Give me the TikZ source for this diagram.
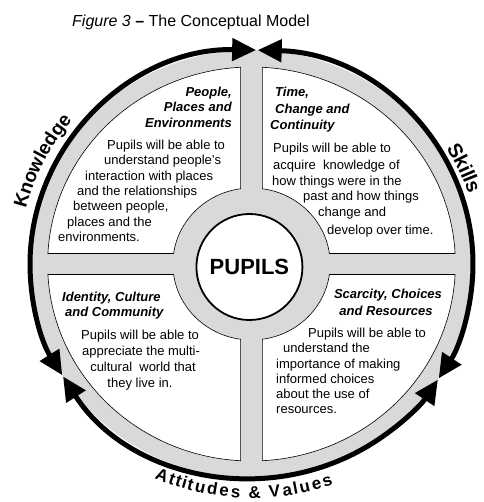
\documentclass[tikz,border=0pt]{standalone}
\usepackage{fontspec}
\setmainfont{Liberation Sans}
\usetikzlibrary{arrows.meta}

\newcommand\bodysize{\fontsize{13}{15}\selectfont}

\begin{document}
\begin{tikzpicture}
	[x=1pt,y=-1pt,
	 ring/.style={fill=gray!30},
	 quad/.style={fill=white,draw=black,line width=0.6pt},
	 arcarrow/.style={line width=5pt,
		{Triangle[length=24pt,width=22pt]}-{Triangle[length=24pt,width=22pt]}},
	 arcletter/.style={inner sep=0pt,anchor=base,font=\fontsize{#1}{#1}\selectfont\bfseries},
	 head/.style={font=\bodysize\bfseries\itshape,inner sep=0pt},
	 body/.style={font=\bodysize,inner sep=0pt}]
	\useasboundingbox (0,0) rectangle (483,502);
	\node[anchor=base west,inner sep=0pt,font=\fontsize{16}{18}\selectfont] (title) at (72,27)
		{\textit{Figure 3} \textbf{--} The Conceptual Model};
	% wheel
	\begin{scope}[shift={(251.5,264)},x=1.035pt,y=1pt]
		\def\rin{76} \def\rout{197} \def\gap{10.5}
		\pgfmathsetmacro\ai{asin(\gap/\rin)}
		\pgfmathsetmacro\ao{asin(\gap/\rout)}
		\fill[ring] (0,0) circle[radius=214];
		\foreach \q in {0,90,180,270}
			\filldraw[quad] (\q+90-\ai:\rin) -- (\q+90-\ao:\rout)
				arc[start angle=\q+90-\ao,end angle=\q+\ao,radius=\rout]
				-- (\q+\ai:\rin)
				arc[start angle=\q+\ai,end angle=\q+90-\ai,radius=\rin] -- cycle;
		\node[circle,draw,fill=white,line width=1.8pt,minimum size=106pt,inner sep=0pt,
			font=\fontsize{22}{22}\selectfont\bfseries] (pupils) at (-2,-3) {PUPILS};
		% the three arrows round the wheel
		\draw[arcarrow] (88.8:214) arc[start angle=88.8,end angle=211.3,radius=214];
		\draw[arcarrow] (211.7:214) arc[start angle=211.7,end angle=327.3,radius=214];
		\draw[arcarrow] (88.4:214) arc[start angle=88.4,end angle=-32.3,radius=214];
		% words set letter by letter round the rim
		\foreach \ch/\a [count=\i] in {K/163.9,n/160.7,o/157.8,w/154.6,l/152.0,
				e/150.1,d/147.4,g/144.4,e/141.6}
			\node[arcletter=19,rotate=\a-90] (know\i) at (\a:225) {\ch};
		\foreach \ch/\a [count=\i] in {S/29.9,k/26.8,i/24.7,l/23.3,l/21.9,s/19.8}
			\node[arcletter=20,rotate=\a-90] (skill\i) at (\a:221) {\ch};
		\foreach \ch/\a [count=\i] in {A/247.8,t/250.4,t/252.1,i/253.6,t/255.1,
				u/257.5,d/260.5,e/263.4,s/266.2,{\&}/270.8,V/275.6,a/278.7,
				l/280.7,u/283.0,e/285.9,s/288.6}
			\node[arcletter=17,rotate=\a+90] (att\i) at (\a:234) {\ch};
	\end{scope}
	% People, Places and Environments
	\node[head,anchor=base east] (ppe1) at (232,97) {People,};
	\node[head,anchor=base east] (ppe2) at (232,112) {Places and};
	\node[head,anchor=base east] (ppe3) at (232,128) {Environments};
	\node[body,anchor=base west] (ppeA) at (107,150) {Pupils will be able to};
	\node[body,anchor=base west] (ppeB) at (104,165) {understand people's};
	\node[body,anchor=base west] (ppeC) at (85,181) {interaction with places};
	\node[body,anchor=base west] (ppeD) at (77,196) {and the relationships};
	\node[body,anchor=base west] (ppeE) at (73,211) {between people,};
	\node[body,anchor=base west] (ppeF) at (67,226) {places and the};
	\node[body,anchor=base west] (ppeG) at (58,241) {environments.};
	% Time, Change and Continuity
	\node[head,anchor=base west] (tcc1) at (275,97) {Time,};
	\node[head,anchor=base west] (tcc2) at (275,114) {Change and};
	\node[head,anchor=base west] (tcc3) at (270,130) {Continuity};
	\node[body,anchor=base west] (tccA) at (273,153) {Pupils will be able to};
	\node[body,anchor=base west] (tccB) at (273,170) {acquire~ knowledge of};
	\node[body,anchor=base west] (tccC) at (272,186) {how things were in the};
	\node[body,anchor=base west] (tccD) at (303,201) {past and how things};
	\node[body,anchor=base west] (tccE) at (318,217) {change and};
	\node[body,anchor=base west] (tccF) at (327,234) {develop over time.};
	% Identity, Culture and Community
	\node[head,anchor=base west] (icc1) at (62,301) {Identity, Culture};
	\node[head,anchor=base west] (icc2) at (65,316) {and Community};
	\node[body,anchor=base] (iccA) at (140,339) {Pupils will be able to};
	\node[body,anchor=base] (iccB) at (141,355) {appreciate the multi-};
	\node[body,anchor=base] (iccC) at (143,371) {cultural~ world that};
	\node[body,anchor=base] (iccD) at (140,387) {they live in.};
	% Scarcity, Choices and Resources
	\node[head,anchor=base] (scr1) at (388,298) {Scarcity, Choices};
	\node[head,anchor=base] (scr2) at (386,315) {and Resources};
	\node[body,anchor=base west] (scrA) at (308,337) {Pupils will be able to};
	\node[body,anchor=base west] (scrB) at (283,352) {understand the};
	\node[body,anchor=base west] (scrC) at (276,368) {importance of making};
	\node[body,anchor=base west] (scrD) at (276,383) {informed choices};
	\node[body,anchor=base west] (scrE) at (276,398) {about the use of};
	\node[body,anchor=base west] (scrF) at (276,413) {resources.};
\end{tikzpicture}
\end{document}
